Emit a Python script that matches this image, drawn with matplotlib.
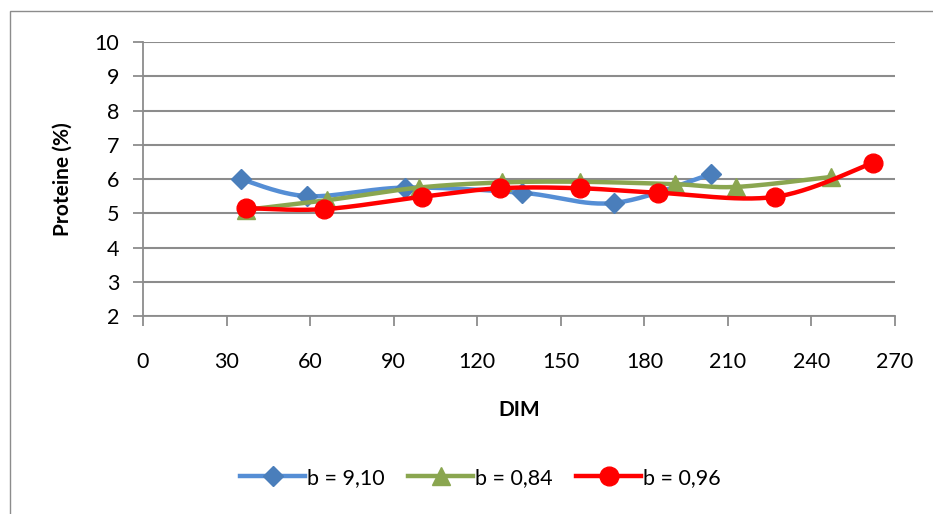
import numpy as np
import matplotlib
matplotlib.use("Agg")
import matplotlib.pyplot as plt
from matplotlib.patches import Rectangle

# DIM / protein values per lactation curve
dim_a = [35, 59, 94, 136, 169, 204]
prot_a = [6.00, 5.50, 5.75, 5.60, 5.30, 6.15]

dim_b = [37, 66, 99, 129, 157, 191, 213, 247]
prot_b = [5.10, 5.38, 5.75, 5.90, 5.92, 5.85, 5.77, 6.06]

dim_c = [37, 65, 100, 128, 157, 185, 227, 262]
prot_c = [5.15, 5.12, 5.48, 5.73, 5.73, 5.60, 5.48, 6.47]

labels = ["b = 9,10", "b = 0,84", "b = 0,96"]
x_ticks = list(range(0, 271, 30))
y_ticks = list(range(2, 11))


def smooth(x, y, steps=30):
    # Catmull-Rom style bezier through the points (like a spreadsheet "smoothed line")
    p = np.column_stack([x, y]).astype(float)
    p = np.vstack([p[0], p, p[-1]])
    out = []
    for i in range(1, len(p) - 2):
        p0, p1, p2, p3 = p[i - 1], p[i], p[i + 1], p[i + 2]
        c1 = p1 + (p2 - p0) / 6.0
        c2 = p2 - (p3 - p1) / 6.0
        t = np.linspace(0, 1, steps)[:, None]
        seg = ((1 - t) ** 3) * p1 + 3 * ((1 - t) ** 2) * t * c1 + 3 * (1 - t) * t ** 2 * c2 + t ** 3 * p2
        out.append(seg if i == 1 else seg[1:])
    out = np.vstack(out)
    return out[:, 0], out[:, 1]


plt.rcParams["font.family"] = ["Lato", "DejaVu Sans"]

fig = plt.figure(figsize=(9.33, 5.14), dpi=100)
fig.patches.append(Rectangle((0.0107, -0.5), 1.5, 1.4786, transform=fig.transFigure,
                             fill=False, edgecolor="#8c8c8c", linewidth=1.0))

ax = fig.add_axes([0.1533, 0.3852, 0.8060, 0.5330])

series = [
    (dim_a, prot_a, "#558ed5", "#4a7ebb", "D", 10),
    (dim_b, prot_b, "#8aa650", "#8aa650", "^", 13),
    (dim_c, prot_c, "#ff0000", "#ff0000", "o", 13.5),
]

for (xs, ys, lc, mc, mk, ms), lab in zip(series, labels):
    sx, sy = smooth(xs, ys)
    ax.plot(sx, sy, color=lc, linewidth=3.2, solid_capstyle="round", zorder=3)
    ax.plot(xs, ys, linestyle="none", marker=mk, markersize=ms,
            markerfacecolor=mc, markeredgecolor=mc, zorder=3)
    ax.plot([], [], color=lc, linewidth=3.2, marker=mk, markersize=ms,
            markerfacecolor=mc, markeredgecolor=mc, label=lab)

ax.set_xlim(0, 270)
ax.set_ylim(2, 10)
ax.set_xticks(x_ticks)
ax.set_yticks(y_ticks)
ax.grid(axis="y", color="#8c8c8c", linewidth=1.5)
ax.set_axisbelow(True)

for side in ["top", "right"]:
    ax.spines[side].set_visible(False)
for side in ["left", "bottom"]:
    ax.spines[side].set_color("#8c8c8c")
    ax.spines[side].set_linewidth(1.3)

ax.tick_params(axis="both", colors="#8c8c8c", labelcolor="black", labelsize=15.5,
               length=7, width=1.3, direction="out")
ax.tick_params(axis="x", pad=19)
ax.tick_params(axis="y", pad=10)

ax.set_xlabel("DIM", fontsize=15, fontweight="bold", labelpad=20)
ax.set_ylabel("Proteine (%)", fontsize=15, fontweight="bold", labelpad=16)

fig.legend(loc="center", bbox_to_anchor=(0.515, 0.07), ncol=3, frameon=False,
           fontsize=15.5, handlelength=3.0, handletextpad=0.1, columnspacing=1.1)

fig.savefig("out.png", dpi=100)
